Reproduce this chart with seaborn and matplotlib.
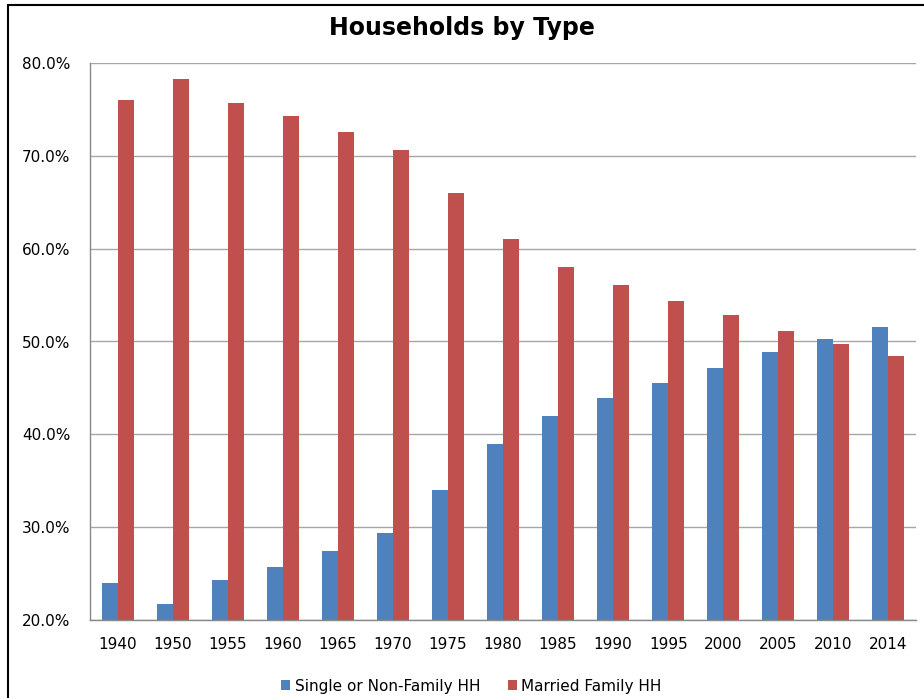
import numpy as np
import pandas as pd
import seaborn as sns
import matplotlib.pyplot as plt
from matplotlib.patches import Patch
from matplotlib.lines import Line2D

# shares of households (%)
years = ["1940", "1950", "1955", "1960", "1965", "1970", "1975", "1980",
         "1985", "1990", "1995", "2000", "2005", "2010", "2014"]
single_hh = [24.0, 21.7, 24.3, 25.7, 27.4, 29.4, 34.0, 39.0,
             42.0, 43.9, 45.5, 47.1, 48.9, 50.3, 51.6]
married_hh = [76.0, 78.3, 75.7, 74.3, 72.6, 70.6, 66.0, 61.0,
              58.0, 56.1, 54.4, 52.9, 51.1, 49.7, 48.4]
series_names = ["Single or Non-Family HH", "Married Family HH"]
colors = ["#4F81BD", "#C0504D"]

df = pd.DataFrame({
    "year": years * 2,
    "share": single_hh + married_hh,
    "type": [series_names[0]] * len(years) + [series_names[1]] * len(years),
})

sns.set_theme(style="white")
plt.rcParams['font.family'] = ['DejaVu Sans']
plt.rcParams['text.color'] = 'black'

fig = plt.figure(figsize=(9.24, 6.98), dpi=100)
ax = fig.add_axes([90 / 924, 1 - 620 / 698, 826 / 924, 557 / 698])

sns.barplot(data=df, x="year", y="share", hue="type", palette=colors,
            width=0.58, gap=0, saturation=1, linewidth=0, ax=ax, legend=False)

ax.set_ylim(20, 80)
ax.set_xlim(-0.5, len(years) - 0.5)
ax.set_yticks(np.arange(20, 81, 10))
ax.set_yticklabels([f"{v:.1f}%" for v in np.arange(20, 81, 10)])
ax.yaxis.grid(True, color="#a6a6a6", linewidth=1)
ax.set_axisbelow(True)
ax.set_xlabel("")
ax.set_ylabel("")

for s in ["top", "right"]:
    ax.spines[s].set_visible(False)
for s in ["left", "bottom"]:
    ax.spines[s].set_color("#888888")
    ax.spines[s].set_linewidth(1)

ax.set_xticks(np.arange(-0.5, len(years), 1), minor=True)
ax.tick_params(axis="x", which="major", length=0, pad=12, labelsize=11, colors="black")
ax.tick_params(axis="x", which="minor", length=6, width=1, color="#888888", direction="out")
ax.tick_params(axis="y", length=6, width=1, color="#888888", direction="out",
               labelsize=11, labelcolor="black", pad=8)

fig.text(0.5, 1 - 28 / 698, "Households by Type", ha="center", va="center",
         fontsize=17, fontweight="bold", color="black")

handles = [Patch(facecolor=c, edgecolor="none") for c in colors]
leg = fig.legend(handles, series_names, loc="center", bbox_to_anchor=(0.51, 1 - 686 / 698),
                 ncol=2, frameon=False, fontsize=11, handlelength=0.6, handleheight=0.6,
                 handletextpad=0.3, columnspacing=1.8)
for t in leg.get_texts():
    t.set_color("black")

# frame edges of the original screenshot
fig.add_artist(Line2D([8 / 924, 8 / 924], [0, 1 - 5 / 698], color="black",
                      linewidth=1.5, transform=fig.transFigure))
fig.add_artist(Line2D([8 / 924, 1], [1 - 5 / 698, 1 - 5 / 698], color="black",
                      linewidth=1.5, transform=fig.transFigure))

fig.savefig("out.png", dpi=100)
